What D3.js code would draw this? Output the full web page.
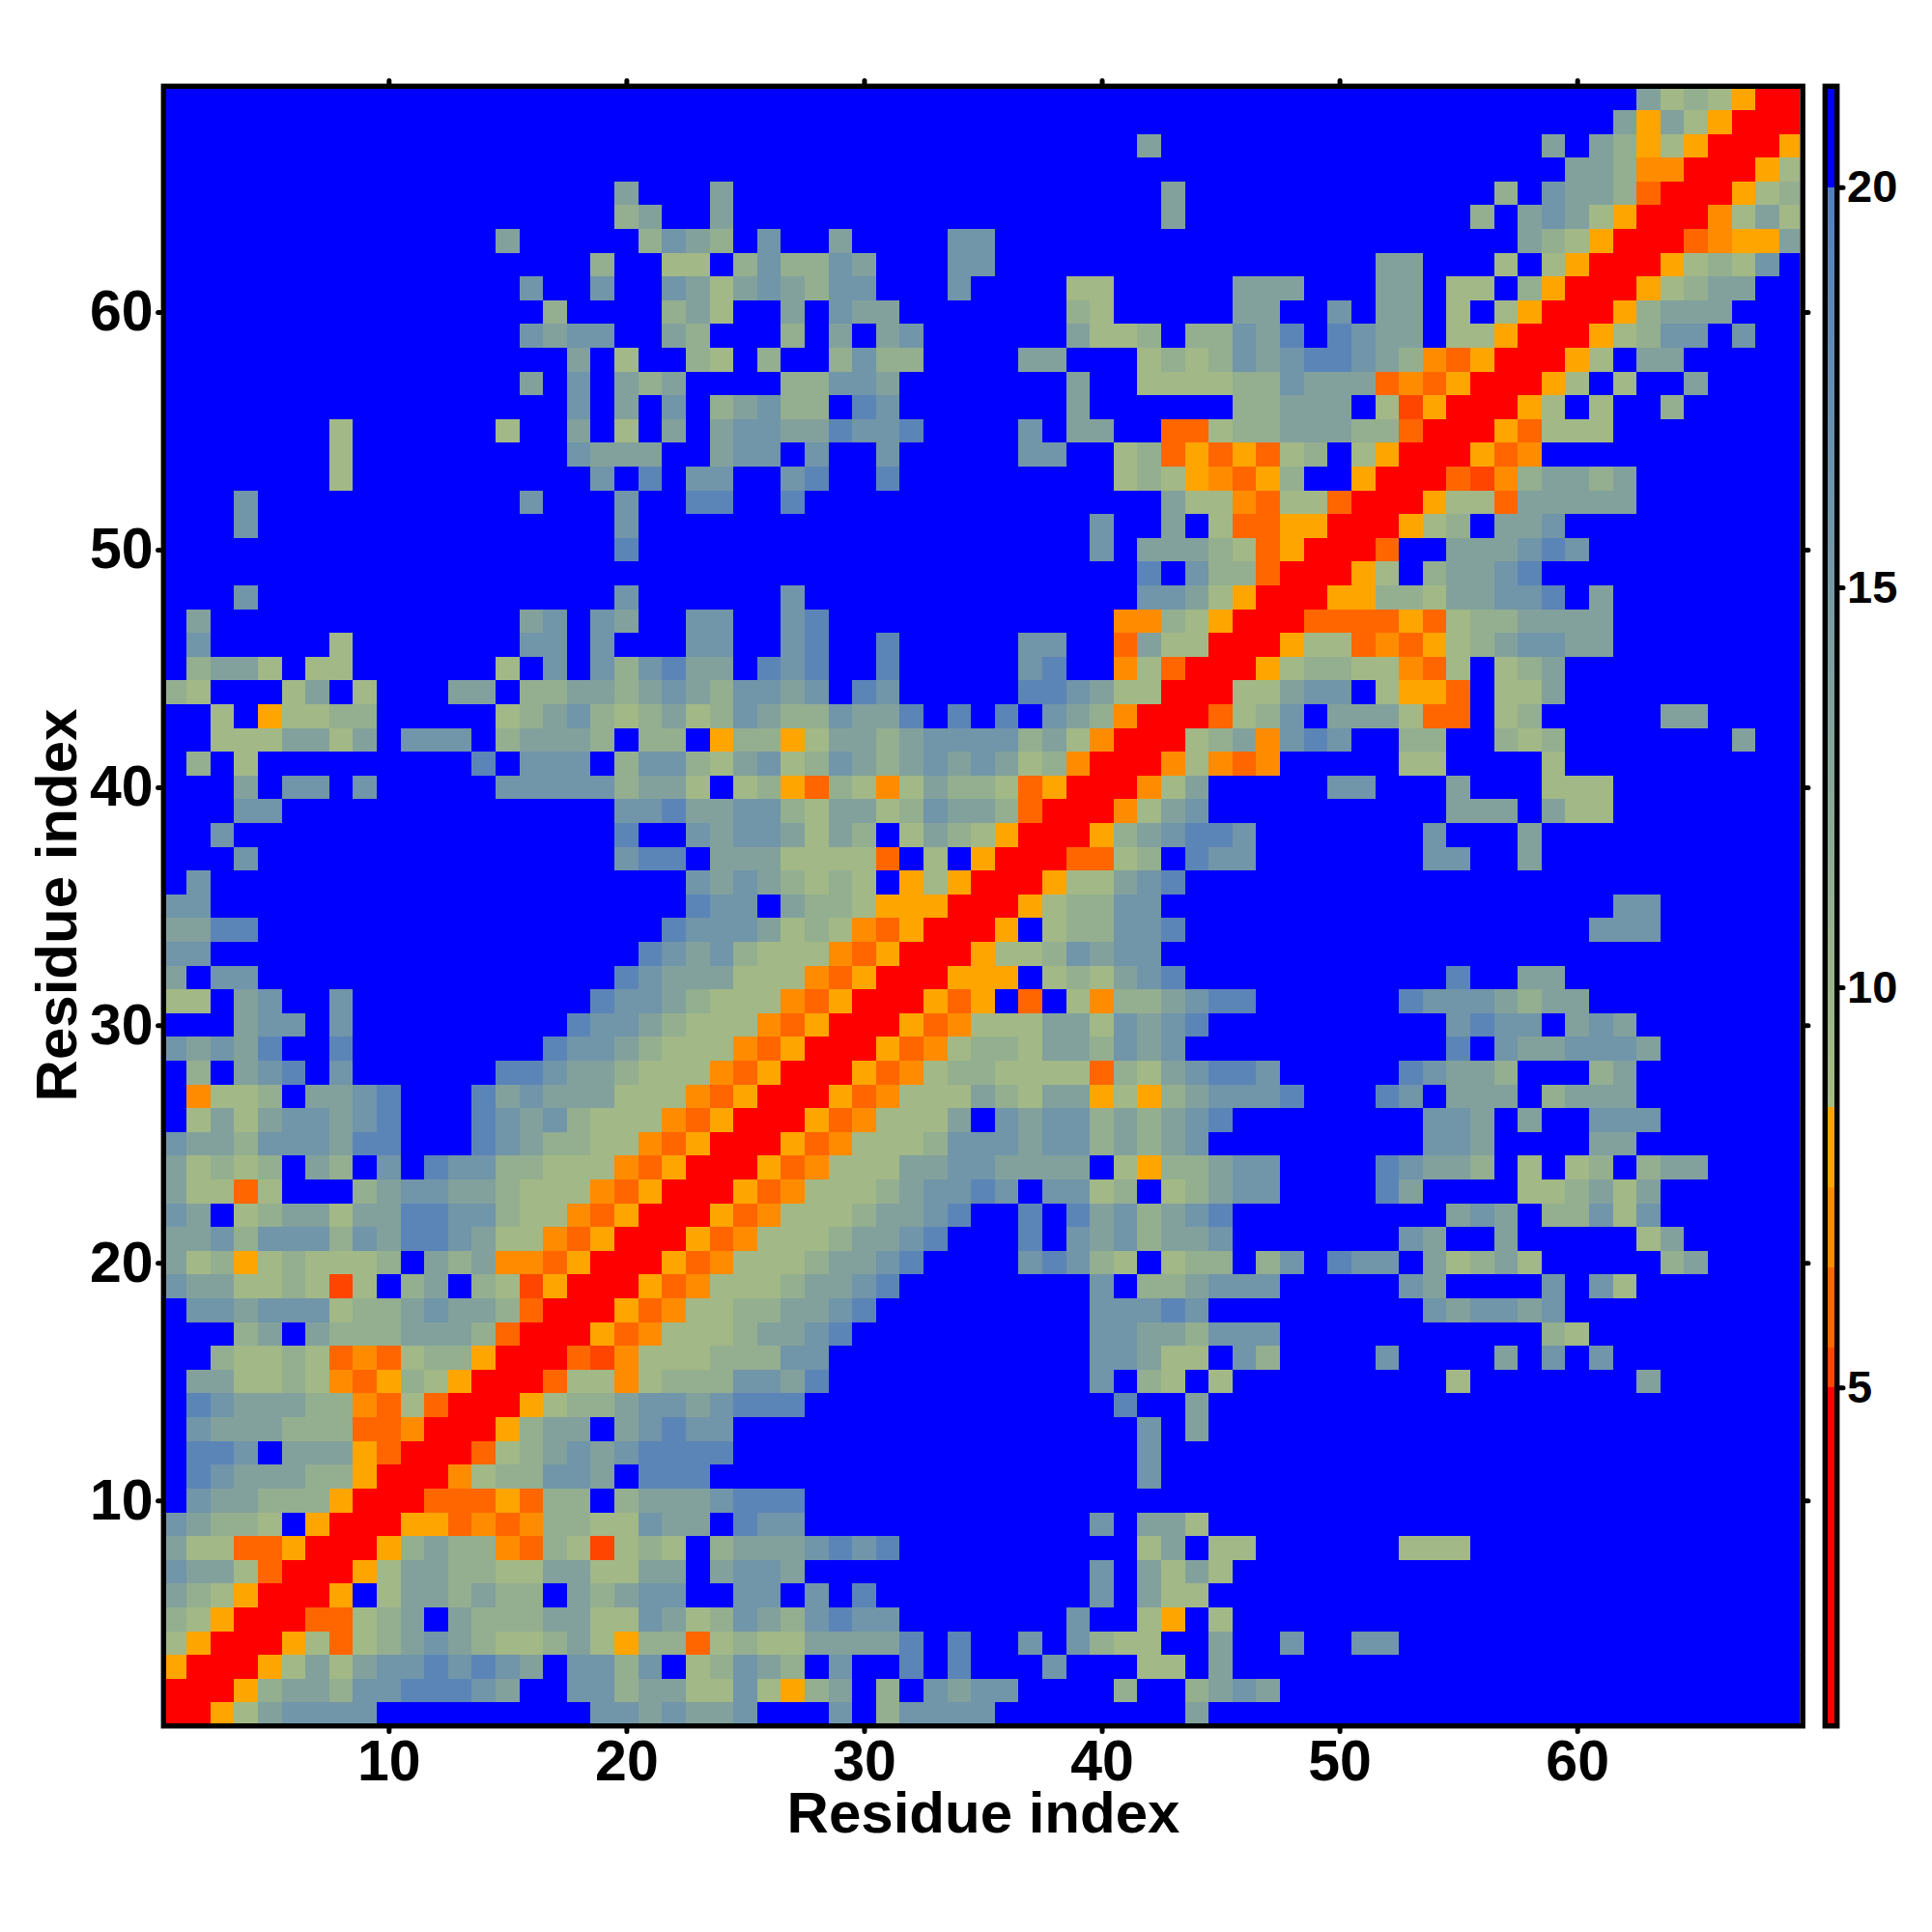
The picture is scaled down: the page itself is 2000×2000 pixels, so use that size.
<!DOCTYPE html>
<html>
<head>
<meta charset="utf-8">
<script src="https://cdn.jsdelivr.net/npm/d3@7"></script>
<style>
html,body{margin:0;padding:0;background:#fff}
svg{display:block}
text{font-family:"Liberation Sans",Arial,sans-serif;font-weight:700;fill:#000}
</style>
</head>
<body>
<svg id="c" width="2000" height="2000"></svg>
<script>
// Cell distance. One string per row, top row (residue 69) first,
// one character per residue 1..69. Each character names a colour level, see levelValues.
const rowsTopDown = [
"....................... ....................... ................cabaorr",
"....................... ....................... ...............cocaorrr",
"....................... ..................c.... ............c.cboaorrro",
"....................... ....................... .............ccbpprrroa",
"...................c... c..................c... ..........b.dccbqrrroab",
"...................bc.. c..................c... .........b.cdcaorrrpaca",
"..............c.....bdc b.d..c....dd........... ...........cbaorrrqpooc",
"..................b..aa .bdbbdc...dd........... .....cc...a.aorrroabad.",
"...............d..d..dc acdcbdd...d....aa.....c cc...cc.aa.borrroabcc..",
"................b....bc a..c.dcc.......ba.....c c..d.cc.a.aorrrobccc...",
"...............dcdd..cb ...b.c.cd......caab.bbd ce.edcc.aaorrroabdd.d..",
".................c.a..b a.b..bdbb....cc...ababd cdeedcbpqorrroa.cc.....",
"...............c.d.cbc. ...bbddc.......c..aaaab bdcccqpqorrroa.a..c....",
".................d.c.d. bcdbb.ed.......c......b bccc.asorrroa.a..b.....",
".......a......a..c.a.c. cddccedde....d.cc..qqab bcccbbqrrroqaaa........",
".......a.........dccc.. cdd.d..d.....dd..abqoqo qab.aorrroqp...........",
".......a..........d.e.d d..de..e.........abaopq ob..orrrqspbccbc.......",
"...d...........d...d..e e..e...............caap qaaqrrroaaqccccc.......",
"...d...............d... ................d..c.aq qoorrroab.ccd..........",
"...................e... ................d.cccba qorrrq..cccded.........",
"....................... ..................e.dbb qrrroa.bccde...........",
"...d...............d... ...d..............ddcao rrroobbaccdde.c........",
".c.............cd.dc..d d..de............ppbaor rrqqqqoqabbcccc........",
".d.....a.......dd.d...d d..de..e.....dd..qcaarr roaaqpqoabcddcc........",
".bcca.aa......a.d.dbdec c.ede..e.....de..paqrrr oabbaapqa.abc..........",
"ba...ac.a...cc.bbccbcdc bddcd.ed.....eedcaarrra acdd.aooq.aac..........",
"..a.oaabb.....abcdbabca bdcbbdcce.e.e.dcbprrrqa bd.cccaqq.ab.....cc....",
"..aaaccac.ddd.bcccb.bb. obboaccbcddddbcaprrrabc pded..bb..bab.......c..",
".b.a.........e.ddd.bddb acdabdcbcdcdcabprrrpapq p.....aa....a..........",
"...c.dd.d.....dddddbcca .aboqbapacbbaqorrrpac.. ...dd...c...aaa........",
"...dd..............ddec cddbaccabdccbqrrrpacd.. ........ccc.caa........",
"..d................e..d cddcacb.acbaorrrobcdeed .......d...c...........",
"...d...............dee. cccaaaaq.a.orrrqqab.edd .......dd..c...........",
".d....................d cdcbaba.oaorrroaacde... .......................",
"dd....................e dd.cbbaooorrroabbdd.... ...............dd......",
"ccee.................ed ddcabapqorrro.abbdde... ..............ddd......",
"dd..................edc dbaaapqorrroaabdcdd.... .......................",
"c.dd...............edcc caaapqorrrooo.abacde... ........e..cc..........",
"aa.cd..d..........eddcb aaapqorrroqo.q.apbbcdee ......edddcbcc.........",
"...cdd.d.........eddcba aapqorrroqpaaaccadcde.. ........dedd.cdc.......",
"dcdce..e........eddcbaa apqorrroqpabbaccbdcd... ........e.dccdddc......",
".b.cde.d......eedccbaaa pqorrroqpabbaaaaqbacdee d.....edccb...bc.......",
".paab.ccde...ecdcccaaap qorrroqpaaacbaccoaobcdd de...ed.ccc.bccc.......",
".acacddcde...edcdbaaapq orrroqpaaac.dcddbcbcde. .......ddc.c..ddd......",
"dccbdddcee...edcbbaapqo rrroqpaaabdddcddbcbcd.. .......ddc....cc.......",
"cabab.cb.d.eddbbaaapqor rroqpaaaccddcccc.aobbcd d....edccb.a.ab.bcc....",
"caaqa...bcddccbaaapqorr roqpaaabcdded.ddab.abcd d....ec....aabcac......",
"dc.abccacceeddbaapqorrr oqpaaabccde..e.ecdbcde. ........cdc.bbdad......",
"ccdbdddbdceedcaapqorrro qpaaabccde...e.dcdbccd. ......dc..c.....ac.....",
"caboabaaab.cbcppqorrroq paaabccde....dedba.abb. bd.edd.cabca.....bc....",
"dccaabasa.bc.basorrroqp aaabccde........d.bbcdd d.....dc....d.da.......",
".ddcdddabbcdccbqrrroqpa abbccde.........ddded.. .......dcddcd..........",
"...bc.cbbbcccbqrrroqpaa abccde..........ddccbdd d...........ba.........",
"..baabaqpqabborrrqspaaa bbbdd...........ddcaa.d b....d....c.d.d........",
".ccaabapqobaorrrqaapabb bddce...........d.ba.a. ........a.......c......",
".edcccbbpqaqrrroabbcddc deee.............e..c.. .......................",
".dcccbbbqqprrrobcc.cded d.................d.c.. .......................",
".eed.cccoqrrrqabcdcdeee e.................d.... .......................",
".edcccbborrrpabbddc.eee ..................d.... .......................",
".dccbbborrrqqqoqbb.bccc deee................... .......................",
"dcbba.orrrooqpqpbbaadcc .edd............d.cca.. .......................",
"caaqqorrrobcbbpqbasaba. bcccdede..........ac.aa ......aaa..............",
"dccaqrrroaccbbaaccaacc. cddc............d.caca. .......................",
"cbaorrro.accbcbb.cbcdd. .dd.d.e.........d.caa.. .......................",
"baorrrqqabc.cbbbccaadca bdcbdedd.......d..ao.a. .......................",
"aorrroaqabcdcbaabcaobbq abaacccce.e..d.dbaa..c. .d..dd.................",
"orrroacacddededc.ddbd.a bdcb.d..e.e...d...aa.c. .......................",
"rrrobccbddeeedc..ddbcca adaobc.b.dcdd....b..bcd c......................",
"rroacdddd.........ddcdc cd...d.bdddd........c.. ......................."
];
const levelValues = {".":21,r:3,s:5.2,q:6,p:7,o:8,a:9,b:11,c:13.5,d:16,e:19};
const xTicks = [10,20,30,40,50,60];
const yTicks = [10,20,30,40,50,60];
const barTicks = [5,10,15,20];
const axisTitle = "Residue index";
const colourStops = [0.8,5,5,5.5,5.5,6.5,6.5,7.5,7.5,8.5,8.5,20,20,21.23];
const colourRange = ["#ff0000","#ff0000","#ff4500","#ff4500","#ff6600","#ff6600","#ff8c00","#ff8c00","#ffa500","#ffa500","#a5bb84","#5580bc","#0000ff","#0000ff"];

const frame = {l:172,r:1863.5,t:92,b:1784};
const x = d3.scaleLinear().domain([0.64,69.38]).range([frame.l,frame.r]);
const y = d3.scaleLinear().domain([0.62,69.39]).range([frame.b,frame.t]);
const colour = d3.scaleLinear().domain(colourStops).range(colourRange).clamp(true);

const cells = [];
rowsTopDown.forEach((s,i)=>{
  const row = s.replace(/ /g,"");
  if(row.length!==69) console.error("row "+(69-i)+" has length "+row.length);
  for(let k=0;k<row.length;k++) cells.push({res:k+1,other:69-i,value:levelValues[row[k]]});
});

const svg = d3.select("#c");
svg.append("rect").attr("width",2000).attr("height",2000).attr("fill","#fff");
svg.append("clipPath").attr("id","plot").append("rect")
  .attr("x",frame.l).attr("y",frame.t).attr("width",frame.r-frame.l).attr("height",frame.b-frame.t);

svg.append("g").attr("clip-path","url(#plot)").attr("shape-rendering","crispEdges")
  .selectAll("rect").data(cells).join("rect")
  .attr("x",d=>x(d.res-0.5))
  .attr("y",d=>y(d.other+0.5))
  .attr("width",d=>x(d.res+0.5)-x(d.res-0.5)+0.5)
  .attr("height",d=>y(d.other-0.5)-y(d.other+0.5)+0.5)
  .attr("fill",d=>colour(d.value));

function styleAxis(g,size){
  g.select(".domain").remove();
  g.selectAll(".tick line").attr("stroke","#000").attr("stroke-width",5).attr("stroke-linecap","round");
  g.selectAll(".tick text").attr("font-size",size).attr("fill","#000");
}
const B = 5.4;
svg.append("g").attr("transform",`translate(0,${frame.b+B})`)
  .call(d3.axisBottom(x).tickValues(xTicks).tickFormat(d3.format("d")).tickSize(3).tickPadding(9))
  .call(styleAxis,59);
svg.append("g").attr("transform",`translate(0,${frame.t-B})`)
  .call(d3.axisTop(x).tickValues(xTicks).tickFormat("").tickSize(3))
  .call(styleAxis,59);
svg.append("g").attr("transform",`translate(${frame.l-B},0)`)
  .call(d3.axisLeft(y).tickValues(yTicks).tickFormat(d3.format("d")).tickSize(3).tickPadding(5))
  .call(styleAxis,59);
svg.append("g").attr("transform",`translate(${frame.r+B},0)`)
  .call(d3.axisRight(y).tickValues(yTicks).tickFormat("").tickSize(3))
  .call(styleAxis,59);

svg.append("rect").attr("x",frame.l-2.7).attr("y",frame.t-2.7)
  .attr("width",frame.r-frame.l+5.4).attr("height",frame.b-frame.t+5.4)
  .attr("fill","none").attr("stroke","#000").attr("stroke-width",5.4);

svg.append("text").attr("x",1018).attr("y",1897).attr("text-anchor","middle").attr("font-size",60).text(axisTitle);
svg.append("text").attr("transform","translate(79,937) rotate(-90)").attr("text-anchor","middle").attr("font-size",60).text(axisTitle);

const bar = {l:1892,r:1899};
const barY = d3.scaleLinear().domain([0.8,21.23]).range([frame.b,frame.t]);
const barSteps = d3.range(frame.t,frame.b,1);
svg.append("g").attr("shape-rendering","crispEdges").selectAll("rect").data(barSteps).join("rect")
  .attr("x",bar.l).attr("width",bar.r-bar.l).attr("y",d=>d).attr("height",1.2)
  .attr("fill",d=>colour(barY.invert(d+0.5)));
svg.append("rect").attr("x",bar.l-2.7).attr("y",frame.t-2.7)
  .attr("width",bar.r-bar.l+5.4).attr("height",frame.b-frame.t+5.4)
  .attr("fill","none").attr("stroke","#000").attr("stroke-width",5.4);
svg.append("g").attr("transform",`translate(${bar.r+5},0)`)
  .call(d3.axisRight(barY).tickValues(barTicks).tickFormat(d3.format("d")).tickSize(4).tickPadding(4))
  .call(styleAxis,47);
</script>
</body>
</html>
